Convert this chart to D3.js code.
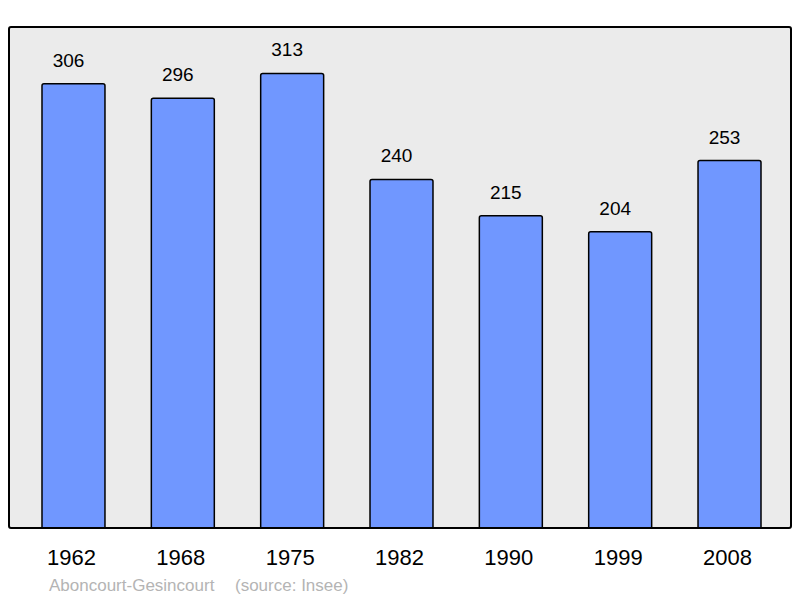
<!DOCTYPE html>
<html>
<head>
<meta charset="utf-8">
<script src="https://cdn.jsdelivr.net/npm/d3@7"></script>
<style>
  body { margin: 0; background: #fff; }
  svg { display: block; font-family: "Liberation Sans", Arial, sans-serif; }
</style>
</head>
<body>
<div id="chart"></div>
<script>
const years = ['1962', '1968', '1975', '1982', '1990', '1999', '2008'];
const population = [306, 296, 313, 240, 215, 204, 253];
const commune = 'Aboncourt-Gesincourt';
const source = '(source: Insee)';

const width = 800;
const height = 598;
const frame = { left: 9, top: 27, right: 791, bottom: 528 };

const svg = d3.select('#chart')
  .append('svg')
  .attr('width', width)
  .attr('height', height);

svg.append('clipPath')
  .attr('id', 'plot-clip')
  .append('rect')
  .attr('x', frame.left)
  .attr('y', frame.top)
  .attr('width', frame.right - frame.left)
  .attr('height', frame.bottom - frame.top);

// plot background
svg.append('rect')
  .attr('x', frame.left)
  .attr('y', frame.top)
  .attr('width', frame.right - frame.left)
  .attr('height', frame.bottom - frame.top)
  .attr('rx', 2)
  .attr('fill', '#ebebeb');

const x = d3.scaleBand()
  .domain(years)
  .range([11, 792])
  .paddingInner(0.424)
  .paddingOuter(0.2835);

const y = d3.scaleLinear()
  .domain([0, 345])
  .range([frame.bottom, frame.top]);

const data = years.map((yr, i) => ({ year: yr, value: population[i] }));

svg.append('g')
  .attr('clip-path', 'url(#plot-clip)')
  .selectAll('.bar')
  .data(data)
  .enter()
  .append('rect')
  .attr('class', 'bar')
  .attr('x', d => x(d.year))
  .attr('y', d => y(d.value))
  .attr('width', x.bandwidth())
  .attr('height', d => y(0) - y(d.value) + 4)
  .attr('rx', 2)
  .attr('fill', '#7097ff')
  .attr('stroke', '#000')
  .attr('stroke-width', 1.5);

// value labels
svg.selectAll('.value')
  .data(data)
  .enter()
  .append('text')
  .attr('class', 'value')
  .attr('x', d => x(d.year) + x.bandwidth() / 2 - 5)
  .attr('y', d => y(d.value) - 17)
  .attr('text-anchor', 'middle')
  .style('font-size', '19px')
  .attr('fill', '#000')
  .text(d => d.value);

// frame border
svg.append('rect')
  .attr('x', frame.left)
  .attr('y', frame.top)
  .attr('width', frame.right - frame.left)
  .attr('height', frame.bottom - frame.top)
  .attr('rx', 2)
  .attr('fill', 'none')
  .attr('stroke', '#000')
  .attr('stroke-width', 2);

// year axis, no line or ticks
const xAxis = svg.append('g')
  .attr('transform', `translate(0,${frame.bottom})`)
  .call(d3.axisBottom(x).tickSize(0).tickPadding(21));
xAxis.select('.domain').remove();
xAxis.selectAll('text')
  .attr('dx', -2)
  .style('font-size', '22px')
  .style('font-family', '"Liberation Sans", Arial, sans-serif')
  .attr('fill', '#000');

svg.append('text')
  .attr('x', 49)
  .attr('y', 591)
  .style('font-size', '17px')
  .attr('fill', '#b4b4b4')
  .text(commune);

svg.append('text')
  .attr('x', 235)
  .attr('y', 591)
  .style('font-size', '17px')
  .attr('fill', '#b4b4b4')
  .text(source);
</script>
</body>
</html>
